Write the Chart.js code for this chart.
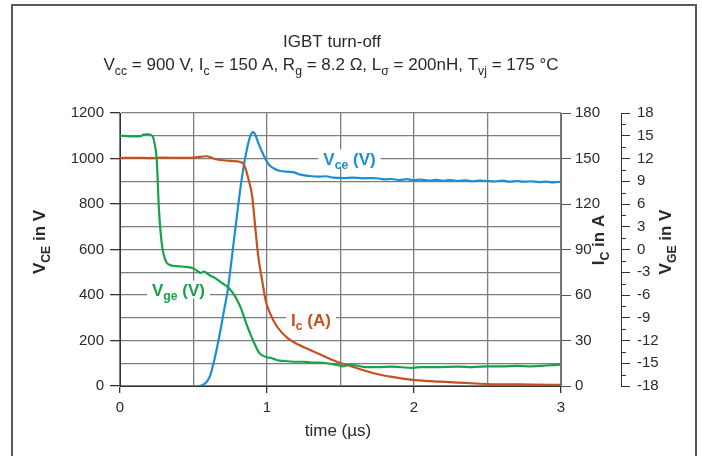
<!DOCTYPE html>
<html>
<head>
<meta charset="utf-8">
<script src="https://cdn.jsdelivr.net/npm/chart.js@4.4.1/dist/chart.umd.min.js"></script>
<style>
  html, body { margin: 0; padding: 0; background: #fff; }
  #wrap { width: 702px; height: 456px; position: relative; }
</style>
</head>
<body>
<div id="wrap"><canvas id="c" width="702" height="456"></canvas></div>
<script>
// ---- Data ----
// V_CE in V (left axis), time in µs
const tVce = [0.544,0.58,0.61,0.64,0.68,0.71,0.73,0.76,0.79,0.83,0.87,0.89,0.905,0.92,0.94,0.97,1.00,1.02,1.05,1.09,1.14,1.18,1.22,1.29,1.35,1.40,1.45,1.52,1.58,1.65,1.72,1.76,1.80,1.85,1.90,1.95,1.99,2.05,2.10,2.15,2.20,2.25,2.30,2.35,2.40,2.45,2.50,2.55,2.60,2.65,2.70,2.75,2.80,2.85,2.90,2.95,3.00];
const vce  = [0,12,40,110,233,340,409,560,720,919,1060,1105,1116,1105,1070,1024,985,968,955,945,942,940,930,923,920,922,916,914,916,913,914,912,908,910,905,909,905,907,903,906,902,905,901,904,900,903,901,899,903,898,901,898,900,896,898,895,898];

// V_GE in V (outer right axis)
const tVge = [0,0.05,0.10,0.14,0.16,0.19,0.22,0.235,0.25,0.265,0.28,0.29,0.305,0.32,0.35,0.39,0.45,0.50,0.53,0.55,0.57,0.59,0.61,0.65,0.70,0.73,0.77,0.80,0.82,0.86,0.91,0.95,1.00,1.03,1.07,1.12,1.18,1.25,1.30,1.35,1.41,1.47,1.52,1.56,1.61,1.67,1.75,1.85,1.99,2.05,2.15,2.30,2.40,2.50,2.60,2.70,2.80,2.90,3.00];
const vge  = [15.0,14.95,14.9,14.95,15.15,15.2,15.0,14.0,11.8,5.2,1.5,0,-1.2,-1.8,-2.1,-2.2,-2.3,-2.5,-2.9,-3.1,-2.9,-3.1,-3.4,-3.8,-4.5,-4.9,-5.8,-6.8,-7.6,-9.8,-12.2,-13.7,-14.2,-14.3,-14.6,-14.7,-14.8,-14.8,-14.9,-14.9,-15.0,-15.2,-15.4,-15.2,-15.3,-15.5,-15.5,-15.45,-15.6,-15.5,-15.5,-15.45,-15.5,-15.4,-15.4,-15.35,-15.4,-15.3,-15.2];

// I_C in A (inner right axis)
const tIc = [0,0.1,0.2,0.3,0.4,0.5,0.59,0.62,0.65,0.68,0.75,0.82,0.84,0.85,0.87,0.90,0.92,0.94,0.97,0.99,1.02,1.07,1.14,1.22,1.34,1.48,1.50,1.63,1.72,1.85,1.99,2.10,2.24,2.35,2.5,2.65,2.8,3.0];
const ic  = [150.3,150.5,150.3,150.6,150.4,150.6,151.5,150.6,149.5,149,148.4,147.7,146.5,144.4,137.8,124.6,104.8,86,67.9,56.7,48,38.9,31.6,27,21.8,15.8,15.2,11.2,8.6,6,4,3.2,2.6,2.0,1.3,1.1,1.0,0.7];

// Tick labels
const xTickLabels = [0, 1, 2, 3];
const vceTicks = [0, 200, 400, 600, 800, 1000, 1200];
const icTicks = [0, 30, 60, 90, 120, 150, 180];
const vgeTicks = [-18, -15, -12, -9, -6, -3, 0, 3, 6, 9, 12, 15, 18];

const BLUE = '#1a8fd3', ORANGE = '#c4511f', GREEN = '#17a34c';
const GRID = '#7d7d7d', AXIS = '#333333', TXT = '#2a2a2a';
const FONT = '"Liberation Sans", Arial, Helvetica, sans-serif';

function pts(t, v) { return t.map((x, i) => ({ x: x, y: v[i] })); }

function drawRich(ctx, parts, x, y, size, weight, color, align) {
  const subSize = size * 0.72;
  let w = 0;
  const widths = parts.map(p => {
    ctx.font = weight + ' ' + (p.sub ? subSize : size) + 'px ' + FONT;
    const m = ctx.measureText(p.t).width;
    w += m;
    return m;
  });
  let cx = align === 'center' ? x - w / 2 : x;
  ctx.fillStyle = color;
  ctx.textBaseline = 'alphabetic';
  ctx.textAlign = 'left';
  parts.forEach((p, i) => {
    ctx.font = weight + ' ' + (p.sub ? subSize : size) + 'px ' + FONT;
    ctx.fillText(p.t, cx, p.sub ? y + size * 0.28 : y);
    cx += widths[i];
  });
  return w;
}

function richWidth(ctx, parts, size, weight) {
  let w = 0;
  parts.forEach(p => {
    ctx.font = weight + ' ' + (p.sub ? size * 0.72 : size) + 'px ' + FONT;
    w += ctx.measureText(p.t).width;
  });
  return w;
}

const curveLabels = [
  { parts: [{t:'V'},{t:'ce',sub:true},{t:' (V)'}], x: 1.561, y: 1000, color: BLUE },
  { parts: [{t:'V'},{t:'ge',sub:true},{t:' (V)'}], x: 0.398, y: 424, color: GREEN },
  { parts: [{t:'I'},{t:'c',sub:true},{t:' (A)'}], x: 1.299, y: 292, color: ORANGE }
];

const decor = {
  id: 'decor',
  beforeDraw(chart) {
    const ctx = chart.ctx;
    ctx.save();
    ctx.fillStyle = '#fff';
    ctx.fillRect(0, 0, chart.width, chart.height);
    // frame
    ctx.strokeStyle = '#5a5a5a';
    ctx.lineWidth = 2;
    ctx.beginPath();
    ctx.moveTo(12, 460); ctx.lineTo(12, 5); ctx.lineTo(696, 5); ctx.lineTo(696, 460);
    ctx.stroke();
    ctx.restore();
  },
  afterDatasetsDraw(chart) {
    const ctx = chart.ctx;
    const sx = chart.scales.x, sy = chart.scales.y;
    ctx.save();
    curveLabels.forEach(l => {
      const cx = sx.getPixelForValue(l.x);
      const cy = sy.getPixelForValue(l.y);
      const size = 17;
      const w = richWidth(ctx, l.parts, size, 'bold');
      ctx.fillStyle = '#fff';
      ctx.fillRect(cx - w / 2 - 5, cy - 9, w + 10, 18);
      drawRich(ctx, l.parts, cx, cy + size * 0.36, size, 'bold', l.color, 'center');
    });
    ctx.restore();
  },
  afterDraw(chart) {
    const ctx = chart.ctx;
    ctx.save();
    // minor ticks on V_GE axis
    const g = chart.scales.yGe;
    ctx.strokeStyle = AXIS;
    ctx.lineWidth = 1;
    for (let i = 0; i < vgeTicks.length - 1; i++) {
      const v = (vgeTicks[i] + vgeTicks[i + 1]) / 2;
      const py = Math.round(g.getPixelForValue(v)) + 0.5;
      ctx.beginPath();
      ctx.moveTo(g.left, py); ctx.lineTo(g.left + 5, py);
      ctx.stroke();
    }
    // titles
    drawRich(ctx, [{t:'IGBT turn-off'}], 332, 47, 17, 'normal', TXT, 'center');
    drawRich(ctx, [
      {t:'V'},{t:'cc',sub:true},{t:' = 900 V, I'},{t:'c',sub:true},{t:' = 150 A, R'},{t:'g',sub:true},
      {t:' = 8.2 Ω, L'},{t:'σ',sub:true},{t:' = 200nH, T'},{t:'vj',sub:true},{t:' = 175 °C'}
    ], 331, 70, 17, 'normal', TXT, 'center');
    // x axis title
    drawRich(ctx, [{t:'time (µs)'}], 338, 436, 17, 'normal', TXT, 'center');
    // rotated axis titles
    const rot = (parts, bx, cy) => {
      ctx.save();
      ctx.translate(bx, cy);
      ctx.rotate(-Math.PI / 2);
      drawRich(ctx, parts, 0, 0, 17, 'bold', TXT, 'center');
      ctx.restore();
    };
    rot([{t:'V'},{t:'CE',sub:true},{t:' in V'}], 45, 242);
    rot([{t:'I'},{t:'C',sub:true},{t:' in A'}], 604, 240);
    rot([{t:'V'},{t:'GE',sub:true},{t:' in V'}], 671, 242);
    ctx.restore();
  }
};

new Chart(document.getElementById('c'), {
  type: 'line',
  data: {
    datasets: [
      { label: 'Vge', data: pts(tVge, vge), yAxisID: 'yGe', borderColor: GREEN },
      { label: 'Ic', data: pts(tIc, ic), yAxisID: 'yIc', borderColor: ORANGE },
      { label: 'Vce', data: pts(tVce, vce), yAxisID: 'y', borderColor: BLUE }
    ]
  },
  options: {
    responsive: false,
    animation: false,
    events: [],
    layout: { padding: { top: 113, left: 0, right: 0, bottom: 0 } },
    elements: {
      point: { radius: 0 },
      line: { borderWidth: 2.2, tension: 0, cubicInterpolationMode: 'monotone', fill: false }
    },
    plugins: { legend: { display: false }, tooltip: { enabled: false }, title: { display: false } },
    scales: {
      x: {
        type: 'linear', position: 'bottom', min: 0, max: 3,
        afterFit(s) { s.height = 70; },
        ticks: {
          stepSize: 0.5, autoSkip: false, maxRotation: 0, padding: 6,
          color: TXT, font: { family: FONT, size: 15 },
          callback: v => (xTickLabels.includes(v) ? String(v) : '')
        },
        grid: {
          color: GRID, lineWidth: 1.3, tickLength: 7,
          tickColor: c => (c.tick && xTickLabels.includes(c.tick.value) ? AXIS : 'rgba(0,0,0,0)')
        },
        border: { color: AXIS, width: 1 }
      },
      y: {
        type: 'linear', position: 'left', min: 0, max: 1200,
        afterFit(s) { s.width = 120; },
        ticks: {
          stepSize: 100, autoSkip: false, padding: 6,
          color: TXT, font: { family: FONT, size: 15 },
          callback: v => (vceTicks.includes(v) ? String(v) : '')
        },
        grid: {
          color: GRID, lineWidth: 1.3, tickLength: 10,
          tickColor: c => (c.tick && vceTicks.includes(c.tick.value) ? AXIS : 'rgba(0,0,0,0)')
        },
        border: { color: AXIS, width: 1 }
      },
      yIc: {
        type: 'linear', position: 'right', min: 0, max: 180, weight: 0,
        afterFit(s) { s.width = 60; },
        ticks: {
          stepSize: 30, autoSkip: false, padding: 4,
          color: TXT, font: { family: FONT, size: 15 },
          callback: v => (icTicks.includes(v) ? String(v) : '')
        },
        grid: { drawOnChartArea: false, tickLength: 10, tickColor: '#555' },
        border: { color: '#666', width: 1 }
      },
      yGe: {
        type: 'linear', position: 'right', min: -18, max: 18, weight: 1,
        afterFit(s) { s.width = 81; },
        ticks: {
          stepSize: 3, autoSkip: false, padding: 7,
          color: TXT, font: { family: FONT, size: 15 },
          callback: v => (vgeTicks.includes(v) ? String(v) : '')
        },
        grid: { drawOnChartArea: false, tickLength: 9, tickColor: AXIS },
        border: { color: AXIS, width: 1 }
      }
    }
  },
  plugins: [decor]
});
</script>
</body>
</html>
